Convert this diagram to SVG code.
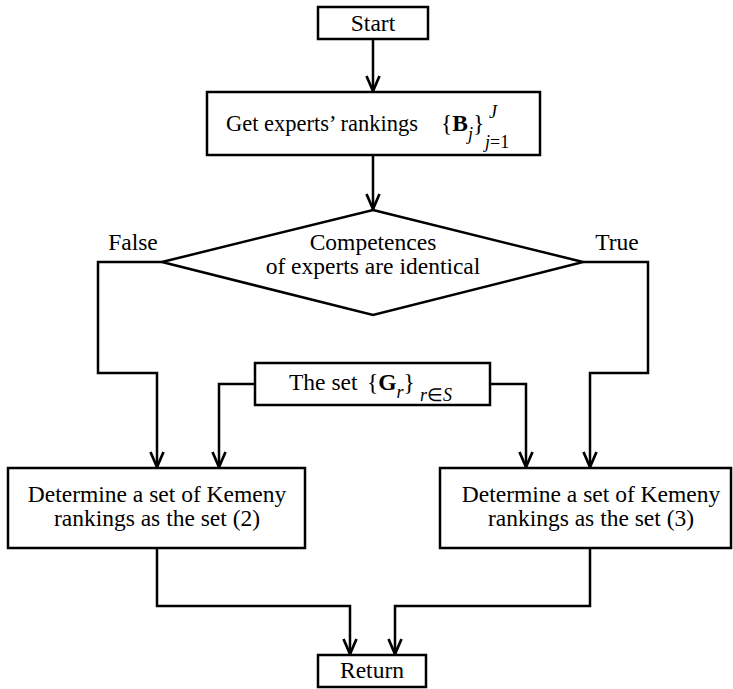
<svg xmlns="http://www.w3.org/2000/svg" width="733" height="689" viewBox="0 0 733 689">
<style>
.box{fill:#fff;stroke:#000;stroke-width:2.5}
text{font-family:"Liberation Serif","Times New Roman",serif;font-size:23.5px;fill:#000}
.m{text-anchor:middle}
.s{font-size:18px}
.i{font-style:italic}
.b{font-weight:bold}
.c{fill:none;stroke:#000;stroke-width:2.5;marker-end:url(#a)}
</style>
<defs>
<marker id="a" markerUnits="userSpaceOnUse" markerWidth="24" markerHeight="24" viewBox="-20 -12 24 24" refX="0" refY="0" orient="auto" overflow="visible">
<path d="M-15,-6.5 L0,0 L-15,6.5" fill="none" stroke="#000" stroke-width="2.7"/>
</marker>
</defs>
<rect width="733" height="689" fill="#fff"/>
<g id="connectors">
<path class="c" d="M373,39 V91"/>
<path class="c" d="M373,155 V209"/>
<path class="c" d="M162,262 H98 V373 H157 V467"/>
<path class="c" d="M255,384 H219 V467"/>
<path class="c" d="M490,384 H526 V467"/>
<path class="c" d="M583,262 H648 V373 H590 V467"/>
<path class="c" d="M157,548 V606 H350 V654"/>
<path class="c" d="M590,548 V606 H395 V654"/>
</g>
<g id="start">
<rect class="box" x="318" y="7" width="110" height="32"/>
<text class="m" x="373" y="31">Start</text>
</g>
<g id="get">
<rect class="box" x="207" y="92" width="333" height="63"/>
<text x="226" y="131"><tspan style="font-size:22.5px">Get experts’ rankings</tspan><tspan x="441">{</tspan><tspan class="b">B</tspan><tspan class="s i" dy="9">j</tspan><tspan dy="-9">}</tspan><tspan class="s i" x="489" dy="-13">J</tspan><tspan class="s" x="485" dy="30"><tspan class="i">j</tspan>=1</tspan></text>
</g>
<g id="decision">
<polygon class="box" points="373,210 583,262 373,315 162,262"/>
<text class="m" x="373" y="250">Competences</text>
<text class="m" x="373" y="274">of experts are identical</text>
</g>
<g id="labels">
<text class="m" x="133" y="250">False</text>
<text class="m" x="617" y="250">True</text>
</g>
<g id="set">
<rect class="box" x="255" y="363" width="235" height="42"/>
<text x="289" y="390">The set<tspan x="367">{</tspan><tspan class="b">G</tspan><tspan class="s i" dy="8">r</tspan><tspan dy="-8">}</tspan><tspan class="s" x="420" dy="11"><tspan class="i">r</tspan>∈<tspan class="i">S</tspan></tspan></text>
</g>
<g id="left">
<rect class="box" x="8" y="468" width="297" height="80"/>
<text class="m" x="157" y="502">Determine a set of Kemeny</text>
<text class="m" x="157" y="526">rankings as the set (2)</text>
</g>
<g id="right">
<rect class="box" x="440" y="468" width="291" height="80"/>
<text class="m" x="591" y="502">Determine a set of Kemeny</text>
<text class="m" x="591" y="526">rankings as the set (3)</text>
</g>
<g id="return">
<rect class="box" x="318" y="655" width="108" height="32"/>
<text class="m" x="372" y="678">Return</text>
</g>
</svg>
